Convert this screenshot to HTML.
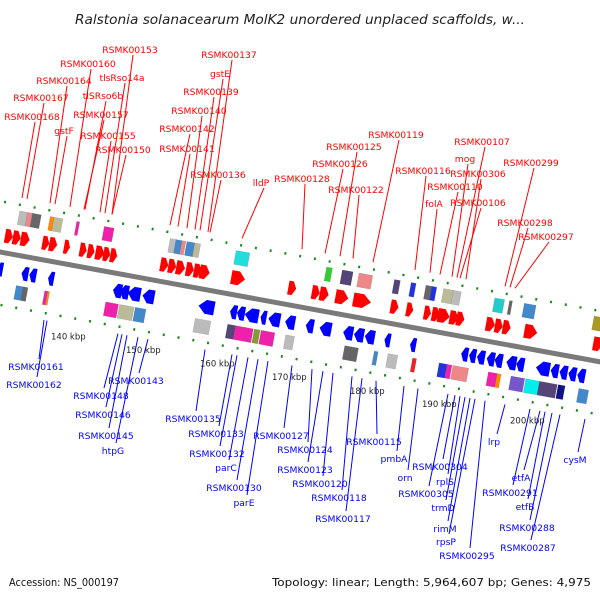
<!DOCTYPE html>
<html><head><meta charset="utf-8"><style>
html,body{margin:0;padding:0;background:#fff;}
svg{display:block;font-family:"DejaVu Sans","Liberation Sans",sans-serif;}
</style></head><body>
<svg id="map" width="600" height="600" viewBox="0 0 600 600">
<text x="75" y="24" textLength="450" lengthAdjust="spacingAndGlyphs" font-size="13" font-style="italic" fill="#222">Ralstonia solanacearum MolK2 unordered unplaced scaffolds, w...</text>
<g id="labels"></g>
<g id="track" transform="translate(0,252) rotate(10.37)">
<line x1="-20" y1="0" x2="680" y2="0" stroke="#7a7a7a" stroke-width="5"/>
<line x1="-20" y1="-50" x2="680" y2="-50" stroke="#1a8a1a" stroke-width="2.5" stroke-dasharray="2 13"/>
<line x1="-20" y1="52" x2="680" y2="52" stroke="#1a8a1a" stroke-width="2.5" stroke-dasharray="2 13"/>
</g>
<g id="ticks"></g>
<text x="9" y="586" textLength="110" lengthAdjust="spacingAndGlyphs" font-size="11" fill="#111">Accession: NS_000197</text>
<text x="272" y="586" textLength="319" lengthAdjust="spacingAndGlyphs" font-size="11" fill="#111">Topology: linear; Length: 5,964,607 bp; Genes: 4,975</text>
</svg>
<script>
const NS="http://www.w3.org/2000/svg";
const tickKbp=[140,150,160,170,180,190,200];
const tickX=[51,126,200,272,350,422,510];
const fwdGenes=[[2,8],[10,8],[18,9],[40,7],[47,8],[62,6],[78,7],[86,7],[94,9],[102,7],[109,7],[160,8],[168,8],[176,9],[186,8],[194,8],[200,10],[232,14],[290,8],[314,8],[322,9],[338,13],[356,18],[394,8],[410,7],[428,7],[436,8],[442,12],[454,9],[461,8],[491,9],[500,8],[508,8],[530,13],[600,10]];
const revGenes=[[0,6],[25,7],[33,7],[52,6],[118,9],[125,9],[133,13],[148,12],[205,16],[237,7],[244,8],[252,14],[268,6],[276,12],[293,10],[314,8],[328,12],[352,10],[363,10],[374,10],[394,6],[420,6],[472,7],[480,7],[488,8],[498,8],[506,8],[518,10],[528,8],[548,14],[563,8],[572,8],[581,8],[590,8]];
const fwdBoxes=[[12,8,"#bbb"],[20,5,"#e88"],[25,9,"#666"],[43,4,"#f80"],[47,9,"#bb9"],[70,3,"#e2a"],[98,10,"#e2a"],[165,6,"#bbb"],[171,6,"#48c"],[177,4,"#e88"],[182,8,"#48c"],[190,6,"#bb9"],[232,14,"#2dd"],[324,6,"#3c3"],[340,11,"#547"],[357,14,"#e88"],[393,6,"#547"],[410,5,"#23d"],[425,6,"#666"],[431,5,"#23d"],[443,10,"#bb9"],[453,8,"#bbb"],[495,10,"#2cc"],[510,3,"#666"],[525,12,"#48c"],[596,10,"#a92"]];
const revBoxes=[[22,7,"#48c"],[29,5,"#666"],[51,3,"#e2a"],[54,2,"#f80"],[113,13,"#e2a"],[127,15,"#bb9"],[143,11,"#48c"],[204,16,"#bbb"],[237,8,"#547"],[245,18,"#e2a"],[264,6,"#893"],[271,14,"#e2a"],[296,9,"#bbb"],[356,7,"#666"],[363,7,"#666"],[386,4,"#48c"],[400,10,"#bbb"],[425,4,"#e22"],[452,8,"#23d"],[460,5,"#e2a"],[466,16,"#e88"],[502,9,"#e2a"],[511,4,"#f80"],[525,14,"#75c"],[540,14,"#0ee"],[554,18,"#547"],[573,7,"#118"],[594,10,"#48c"]];
const redLabels=[["RSMK00153",130,49,112],["RSMK00160",88,63,70],["tlsRso14a",122,77,105],["RSMK00164",64,80,50],["RSMK00167",41,97,27],["tlSRso6b",103,95,85],["RSMK00157",101,114,84],["RSMK00168",32,116,22],["gstF",64,130,55],["RSMK00155",108,135,100],["RSMK00150",123,149,112],["RSMK00137",229,54,208],["gstE",220,73,200],["RSMK00139",211,91,195],["RSMK00140",199,110,187],["RSMK00142",187,128,170],["RSMK00141",187,148,178],["RSMK00136",218,174,210],["lldP",261,182,242],["RSMK00128",302,178,302],["RSMK00126",340,163,325],["RSMK00125",354,146,340],["RSMK00119",396,134,373],["RSMK00122",356,189,353],["RSMK00116",423,170,415],["RSMK00110",455,186,440],["folA",434,203,430],["RSMK00107",482,141,457],["mog",465,158,452],["RSMK00306",478,173,466],["RSMK00106",478,202,460],["RSMK00299",531,162,505],["RSMK00298",525,222,510],["RSMK00297",546,236,515]];
const blueLabels=[["RSMK00161",36,366,44],["RSMK00162",34,384,47],["RSMK00148",101,395,118],["RSMK00143",136,380,148],["RSMK00146",103,414,122],["RSMK00145",106,435,127],["htpG",113,450,138],["RSMK00135",193,418,205],["RSMK00133",216,433,232],["RSMK00132",217,453,237],["parC",226,467,248],["RSMK00130",234,487,258],["parE",244,502,268],["RSMK00127",281,435,292],["RSMK00124",305,449,312],["RSMK00123",305,469,323],["RSMK00120",320,483,333],["RSMK00118",339,497,352],["RSMK00117",343,518,362],["RSMK00115",374,441,376],["pmbA",394,458,404],["orn",405,477,418],["RSMK00304",440,466,455],["rplS",445,481,460],["RSMK00305",426,493,448],["trmD",443,507,465],["rimM",445,528,470],["rpsP",446,541,475],["RSMK00295",467,555,485],["lrp",494,441,505],["RSMK00291",510,492,530],["etfA",521,477,540],["etfB",525,506,545],["RSMK00288",527,527,552],["RSMK00287",528,547,560],["cysM",575,459,585]];
function axisY(x){return 252+0.183*x;}
const track=document.getElementById('track');
function mk(tag,attrs,parent){const e=document.createElementNS(NS,tag);for(const k in attrs)e.setAttribute(k,attrs[k]);parent.appendChild(e);return e;}
fwdGenes.forEach(g=>{const u=g[0],w=g[1];
 const p=mk('polygon',{points:`${u},-24 ${u+w*0.55},-24 ${u+w},-17 ${u+w*0.55},-10 ${u},-10`,fill:'#f00'},track);
 
 });
revGenes.forEach(g=>{const u=g[0],w=g[1];
 const p=mk('polygon',{points:`${u+w},10 ${u+w*0.45},10 ${u},17 ${u+w*0.45},24 ${u+w},24`,fill:'#00f'},track);
 
 });
fwdBoxes.forEach(b=>{const r=mk('rect',{x:b[0],y:-44,width:b[1],height:14,fill:b[2],stroke:'rgba(0,0,0,0.15)','stroke-width':0.5},track);
 
 });
revBoxes.forEach(b=>{const r=mk('rect',{x:b[0],y:30,width:b[1],height:14,fill:b[2],stroke:'rgba(0,0,0,0.15)','stroke-width':0.5},track);
 
 });
const ticks=document.getElementById('ticks');
tickKbp.forEach((k,i)=>{const t=mk('text',{x:tickX[i],y:axisY(tickX[i])+78,'font-size':8.5,fill:'#222'},ticks);t.textContent=k+' kbp';
 
 });
const lab=document.getElementById('labels');
redLabels.forEach(l=>{const [txt,cx,cy,ex]=l;
 const ln=mk('line',{x1:cx+3,y1:cy+6,x2:ex,y2:axisY(ex)-58,stroke:'#f00','stroke-width':1},lab);
 
 
 const t=mk('text',{x:cx,y:cy+4,'font-size':9.2,fill:'#f00','text-anchor':'middle'},lab);t.textContent=txt;
 
 });
blueLabels.forEach(l=>{const [txt,cx,cy,ex]=l;
 const ln=mk('line',{x1:cx+3,y1:cy-7,x2:ex,y2:axisY(ex)+60,stroke:'#00f','stroke-width':1},lab);
 
 
 const t=mk('text',{x:cx,y:cy+4,'font-size':9.2,fill:'#00f','text-anchor':'middle'},lab);t.textContent=txt;
 
 });
</script>
</body></html>
